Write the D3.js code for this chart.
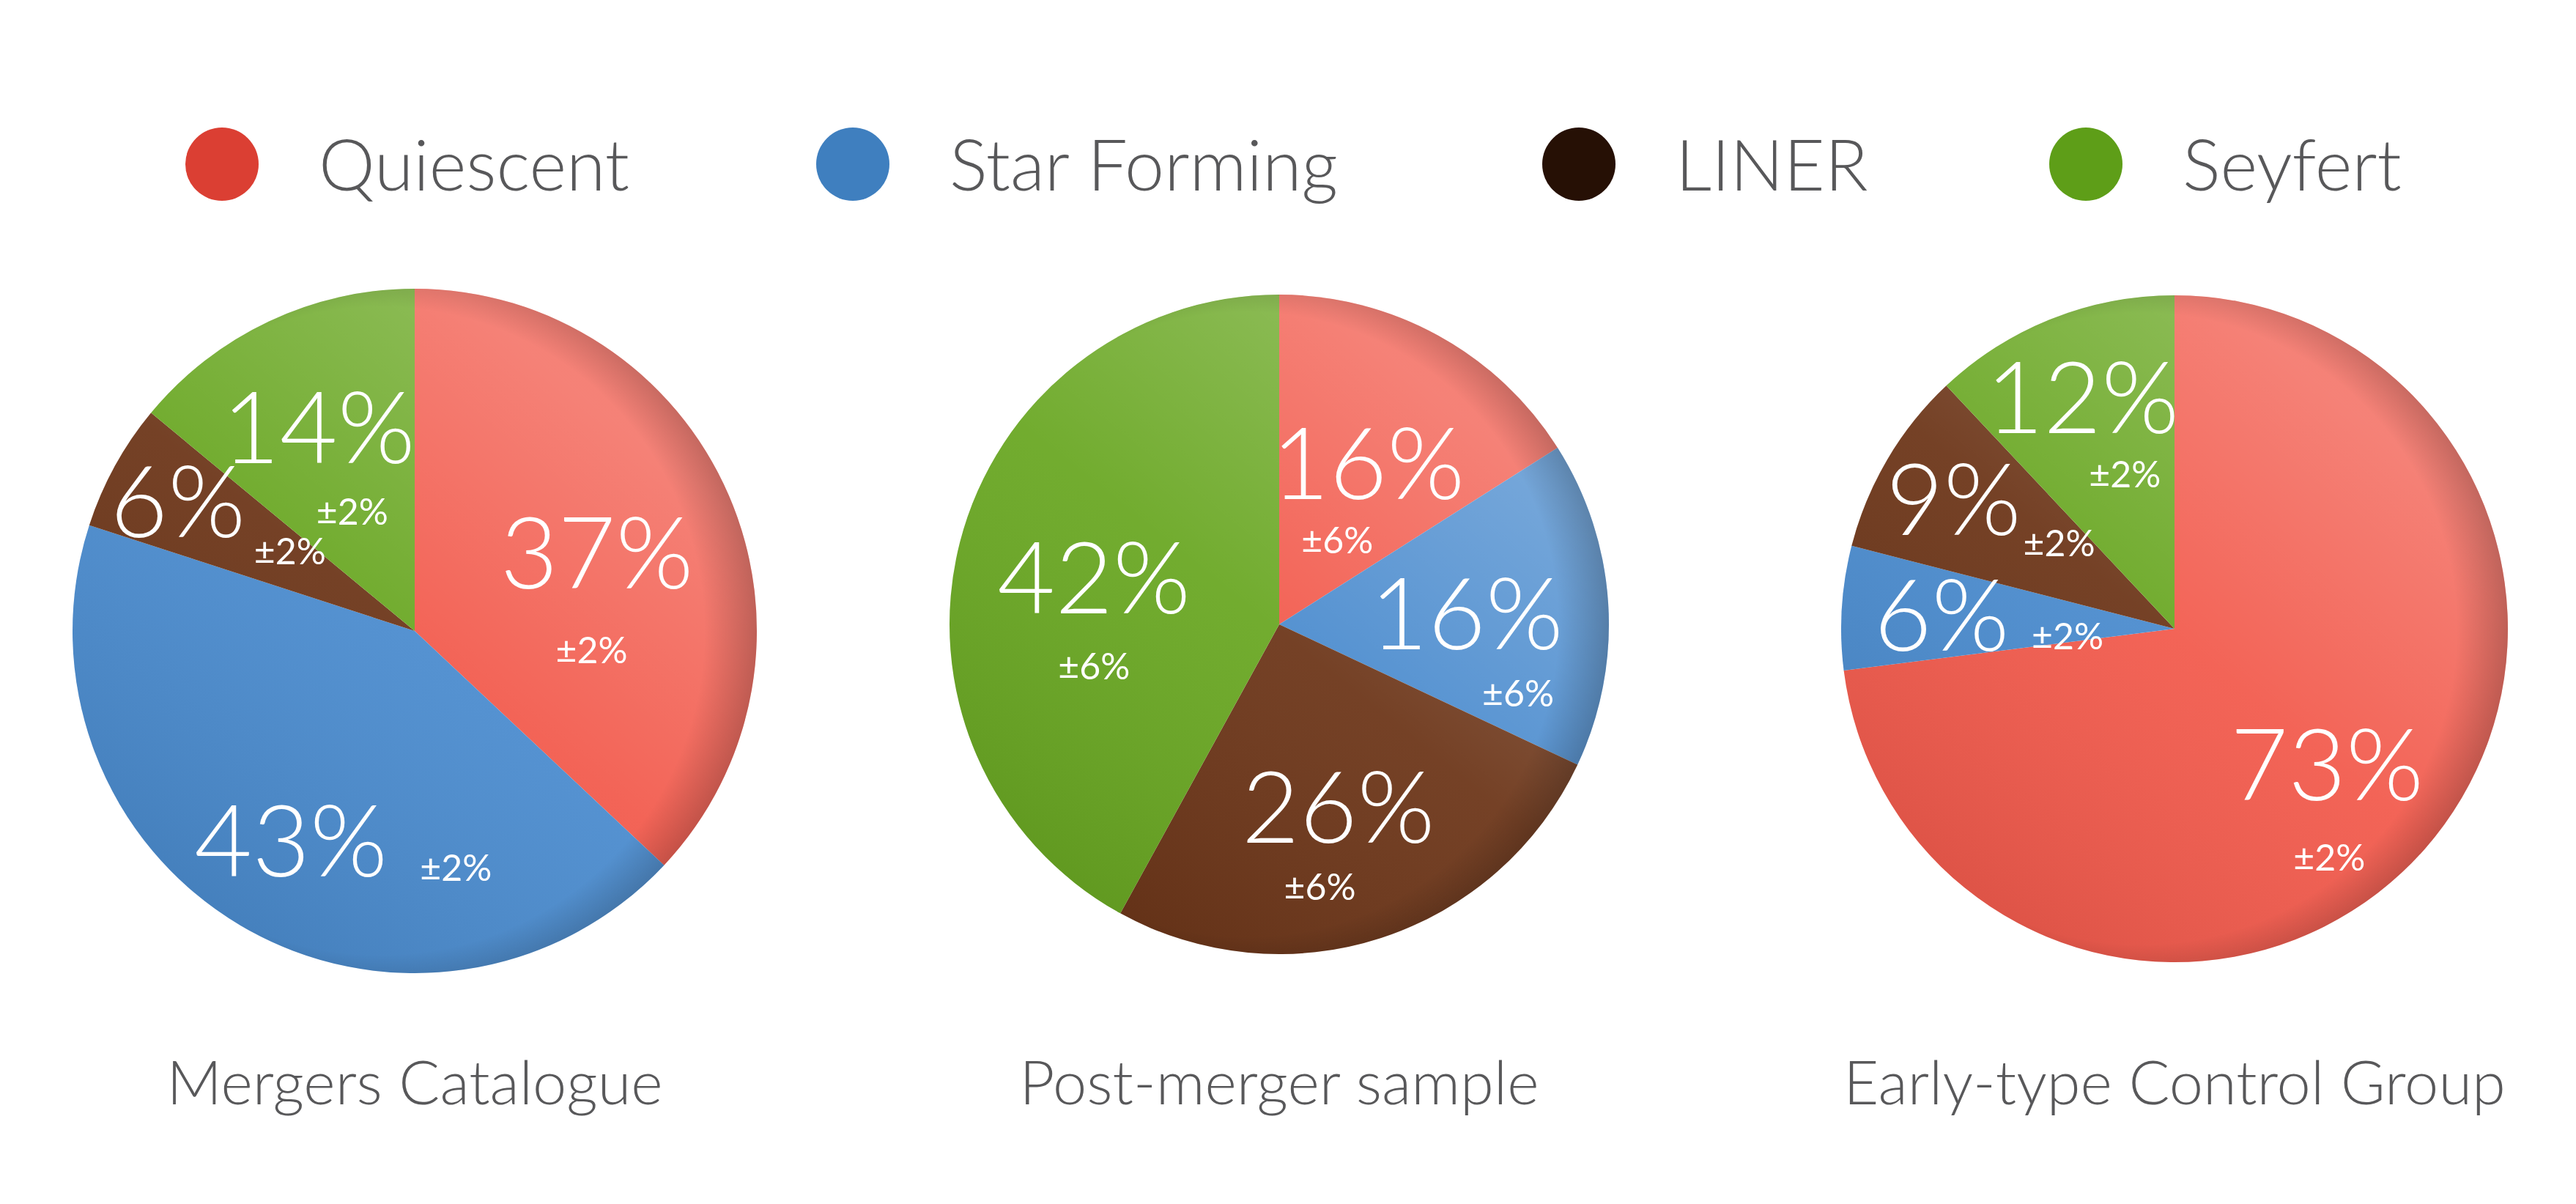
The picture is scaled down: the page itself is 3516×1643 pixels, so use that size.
<!DOCTYPE html>
<html>
<head>
<meta charset="utf-8">
<script src="https://cdn.jsdelivr.net/npm/d3@7"></script>
<style>
  html, body { margin: 0; padding: 0; background: #fff; }
  svg text { font-family: Lato, "Open Sans", sans-serif; }
</style>
</head>
<body>
<div class="board"></div>
<script>
// data
var categories = ["Quiescent", "Star Forming", "LINER", "Seyfert"];
var panelTitles = ["Mergers Catalogue", "Post-merger sample", "Early-type Control Group"];
var mergersValues = [37, 43, 6, 14];
var mergersErrors = [2, 2, 2, 2];
var postMergerValues = [16, 16, 26, 42];
var postMergerErrors = [6, 6, 6, 6];
var controlValues = [73, 6, 9, 12];
var controlErrors = [2, 2, 2, 2];

// look
var sliceColors = ["#f25a4c", "#4a8bce", "#6c3518", "#69a722"];
var legendColors = ["#db3f33", "#3f7fbf", "#261005", "#5e9e18"];
var textGrey = "#58585a";

var boardInfo = { width: 3516, height: 1643 };

// layout of each panel (centre, radius, label radius per slice, offsets of the +/- text)
var panels = [
  { values: mergersValues, errors: mergersErrors, cx: 566, cy: 861, r: 467,
    labelR: [0.58, 0.71, 0.79, 0.66],
    pm: [[-7, 134], [225, 38], [153, 69], [46, 116]] },
  { values: postMergerValues, errors: postMergerErrors, cx: 1746, cy: 852, r: 450,
    labelR: [0.56, 0.57, 0.58, 0.58],
    pm: [[-42, 106], [70, 110], [-25, 110], [0, 122]] },
  { values: controlValues, errors: controlErrors, cx: 2968, cy: 858, r: 455,
    labelR: [0.61, 0.70, 0.77, 0.75],
    pm: [[3, 128], [172, 30], [144, 61], [58, 106]] }
];

var svg = d3.select(".board").append("svg")
  .attr("width", boardInfo.width)
  .attr("height", boardInfo.height);

var defs = svg.append("defs");

// light from top right, shade to bottom left
var lg = defs.append("linearGradient").attr("id", "shade")
  .attr("x1", "0.8").attr("y1", "0.2").attr("x2", "0.2").attr("y2", "0.95");
lg.append("stop").attr("offset", "0%").attr("stop-color", "#fff").attr("stop-opacity", 0.24);
lg.append("stop").attr("offset", "45%").attr("stop-color", "#fff").attr("stop-opacity", 0.06);
lg.append("stop").attr("offset", "100%").attr("stop-color", "#000").attr("stop-opacity", 0.09);

// darker rim, mostly on the right side
var rg = defs.append("radialGradient").attr("id", "rim")
  .attr("cx", "0.45").attr("cy", "0.5").attr("r", "0.55");
rg.append("stop").attr("offset", "86%").attr("stop-color", "#000").attr("stop-opacity", 0);
rg.append("stop").attr("offset", "100%").attr("stop-color", "#000").attr("stop-opacity", 0.22);

// legend
var legendX = [303, 1164, 2155, 2847];
var legend = svg.selectAll(".legend").data(categories)
  .enter().append("g")
  .attr("class", "legend")
  .attr("transform", function(d, i) { return "translate(" + legendX[i] + ",224)"; });

legend.append("circle")
  .attr("r", 50)
  .attr("fill", function(d, i) { return legendColors[i]; });

legend.append("text")
  .attr("x", 132)
  .attr("y", 36)
  .attr("font-size", 97)
  .attr("font-weight", 300)
  .attr("fill", textGrey)
  .text(function(d) { return d; });

var pie = d3.pie().sort(null).value(function(d) { return d; });

panels.forEach(function(p, pi) {
  var g = svg.append("g").attr("transform", "translate(" + p.cx + "," + p.cy + ")");
  var arc = d3.arc().innerRadius(0).outerRadius(p.r);
  var arcs = pie(p.values);

  g.selectAll("path.slice").data(arcs)
    .enter().append("path")
    .attr("class", "slice")
    .attr("d", arc)
    .attr("fill", function(d, i) { return sliceColors[i]; });

  g.append("circle").attr("r", p.r).attr("fill", "url(#shade)");
  g.append("circle").attr("r", p.r).attr("fill", "url(#rim)");

  var labels = g.selectAll("g.lab").data(arcs)
    .enter().append("g")
    .attr("class", "lab")
    .attr("transform", function(d, i) {
      var a = (d.startAngle + d.endAngle) / 2;
      var rr = p.labelR[i] * p.r;
      return "translate(" + (Math.sin(a) * rr) + "," + (-Math.cos(a) * rr) + ")";
    });

  labels.append("text")
    .attr("text-anchor", "middle")
    .attr("y", 50)
    .attr("font-size", 136)
    .attr("font-weight", 300)
    .attr("fill", "#fff")
    .text(function(d) { return d.data + "%"; });

  labels.append("text")
    .attr("text-anchor", "middle")
    .attr("x", function(d, i) { return p.pm[i][0]; })
    .attr("y", function(d, i) { return p.pm[i][1] + 18; })
    .attr("font-size", 50)
    .attr("font-weight", 400)
    .attr("fill", "#fff")
    .text(function(d, i) { return "\u00b1" + p.errors[i] + "%"; });

  svg.append("text")
    .attr("x", p.cx)
    .attr("y", 1507)
    .attr("text-anchor", "middle")
    .attr("font-size", 83)
    .attr("font-weight", 300)
    .attr("fill", textGrey)
    .text(panelTitles[pi]);
});
</script>
</body>
</html>
